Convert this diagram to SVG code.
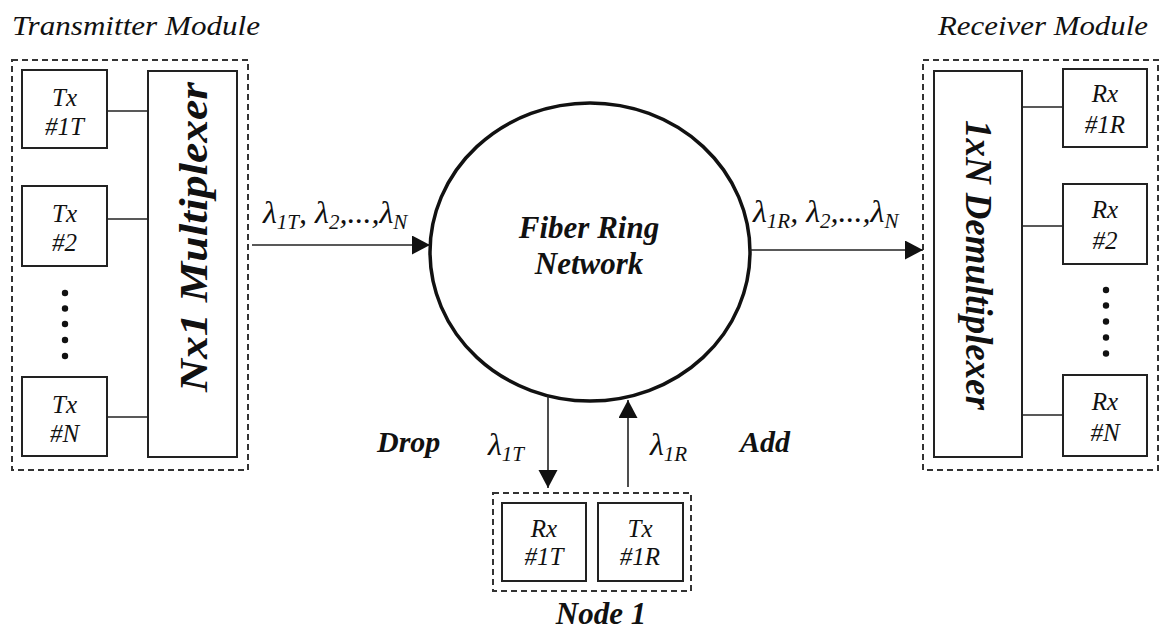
<svg xmlns="http://www.w3.org/2000/svg" width="1160" height="630" viewBox="0 0 1160 630" font-family="'Liberation Serif','Times New Roman',Times,serif">
<style>
text{font-family:'Liberation Serif','Times New Roman',Times,serif}
.dash{fill:none;stroke:#333;stroke-width:2;stroke-dasharray:6,4}
.box{fill:#fff;stroke:#222;stroke-width:2}
.ln{fill:none;stroke:#222;stroke-width:1.6}
.t{font-style:italic;font-size:25px;fill:#111;text-anchor:middle}
.ti{font-style:italic;font-size:28px;fill:#111}
.b{font-style:italic;font-weight:bold;fill:#111}
.lam{font-style:italic;font-size:32px;fill:#111}
.sub{font-size:21px}
.dot{fill:#111}
</style>
<defs>
<marker id="ah" markerWidth="20" markerHeight="20" refX="18" refY="9.5" orient="auto" markerUnits="userSpaceOnUse">
<path d="M0,0 L18,9.5 L0,19 Z" fill="#111"/>
</marker>
</defs>

<g id="transmitter-module">
<text class="ti" x="12" y="35" textLength="248" lengthAdjust="spacingAndGlyphs">Transmitter Module</text>
<rect class="dash" x="12" y="60" width="236" height="410"/>
</g>
<g id="tx1"><rect class="box" x="22" y="70" width="85" height="78"/><text class="t" x="64.5" y="106">Tx</text><text class="t" x="64.5" y="135">#1T</text></g>
<g id="tx2"><rect class="box" x="22" y="186" width="85" height="80"/><text class="t" x="64.5" y="222">Tx</text><text class="t" x="64.5" y="251">#2</text></g>
<g id="txN"><rect class="box" x="22" y="377" width="85" height="79"/><text class="t" x="64.5" y="413">Tx</text><text class="t" x="64.5" y="442">#N</text></g>
<g id="tx-dots"><circle class="dot" cx="65" cy="293" r="3.2"/><circle class="dot" cx="65" cy="308.5" r="3.2"/><circle class="dot" cx="65" cy="324" r="3.2"/><circle class="dot" cx="65" cy="340" r="3.2"/><circle class="dot" cx="65" cy="356" r="3.2"/></g>
<g id="multiplexer"><rect class="box" x="148" y="71" width="89" height="386"/>
<text class="b" font-size="40" text-anchor="middle" transform="translate(207,237) rotate(-90)" textLength="310" lengthAdjust="spacingAndGlyphs">Nx1 Multiplexer</text></g>

<g id="receiver-module">
<text class="ti" x="938" y="35" textLength="210" lengthAdjust="spacingAndGlyphs">Receiver Module</text>
<rect class="dash" x="923" y="60" width="235" height="410"/>
</g>
<g id="demultiplexer"><rect class="box" x="934" y="71" width="88" height="386"/>
<text class="b" font-size="38" text-anchor="middle" transform="translate(966,265) rotate(90)" textLength="290" lengthAdjust="spacingAndGlyphs">1xN Demultiplexer</text></g>
<g id="rx1"><rect class="box" x="1063" y="69" width="84" height="78"/><text class="t" x="1105" y="102">Rx</text><text class="t" x="1105" y="133">#1R</text></g>
<g id="rx2"><rect class="box" x="1063" y="184" width="84" height="80"/><text class="t" x="1105" y="218">Rx</text><text class="t" x="1105" y="249">#2</text></g>
<g id="rxN"><rect class="box" x="1063" y="375" width="84" height="81"/><text class="t" x="1105" y="410">Rx</text><text class="t" x="1105" y="441">#N</text></g>
<g id="rx-dots"><circle class="dot" cx="1106" cy="290" r="3.2"/><circle class="dot" cx="1106" cy="305.5" r="3.2"/><circle class="dot" cx="1106" cy="321.5" r="3.2"/><circle class="dot" cx="1106" cy="337.5" r="3.2"/><circle class="dot" cx="1106" cy="353.5" r="3.2"/></g>

<g id="fiber-ring">
<ellipse cx="590" cy="252" rx="160" ry="149" fill="#fff" stroke="#111" stroke-width="3.5"/>
<text class="b" font-size="31" text-anchor="middle" x="589" y="238">Fiber Ring</text>
<text class="b" font-size="31" text-anchor="middle" x="589" y="274">Network</text>
</g>

<g id="node1">
<rect class="dash" x="493" y="493" width="198" height="98"/>
<rect class="box" x="502" y="503" width="84" height="78"/><text class="t" x="544" y="537">Rx</text><text class="t" x="544" y="565">#1T</text>
<rect class="box" x="598" y="503" width="85" height="78"/><text class="t" x="640" y="537">Tx</text><text class="t" x="640" y="565">#1R</text>
<text class="b" font-size="31" text-anchor="middle" x="601" y="624">Node 1</text>
</g>

<g id="connectors">
<line class="ln" x1="107" y1="111" x2="148" y2="111"/>
<line class="ln" x1="107" y1="219" x2="148" y2="219"/>
<line class="ln" x1="107" y1="417" x2="148" y2="417"/>
<line class="ln" x1="1022" y1="107" x2="1063" y2="107"/>
<line class="ln" x1="1022" y1="226" x2="1063" y2="226"/>
<line class="ln" x1="1022" y1="415" x2="1063" y2="415"/>
<line class="ln" x1="252" y1="245" x2="430" y2="245" marker-end="url(#ah)"/>
<line class="ln" x1="750" y1="250" x2="923" y2="250" marker-end="url(#ah)"/>
<line class="ln" x1="548" y1="396" x2="548" y2="488" marker-end="url(#ah)"/>
<line class="ln" x1="628" y1="487" x2="628" y2="400" marker-end="url(#ah)"/>
</g>

<g id="labels">
<text class="lam" x="263" y="223">λ<tspan class="sub" dy="6">1T</tspan><tspan dy="-6">, λ</tspan><tspan class="sub" dy="6">2</tspan><tspan dy="-6">,...,λ</tspan><tspan class="sub" dy="6">N</tspan></text>
<text class="lam" x="753" y="222">λ<tspan class="sub" dy="6">1R</tspan><tspan dy="-6">, λ</tspan><tspan class="sub" dy="6">2</tspan><tspan dy="-6">,...,λ</tspan><tspan class="sub" dy="6">N</tspan></text>
<text class="lam" x="488" y="455">λ<tspan class="sub" dy="6">1T</tspan></text>
<text class="lam" x="650" y="455">λ<tspan class="sub" dy="6">1R</tspan></text>
<text class="b" font-size="30" x="377" y="452">Drop</text>
<text class="b" font-size="30" x="740" y="452">Add</text>
</g>
</svg>
